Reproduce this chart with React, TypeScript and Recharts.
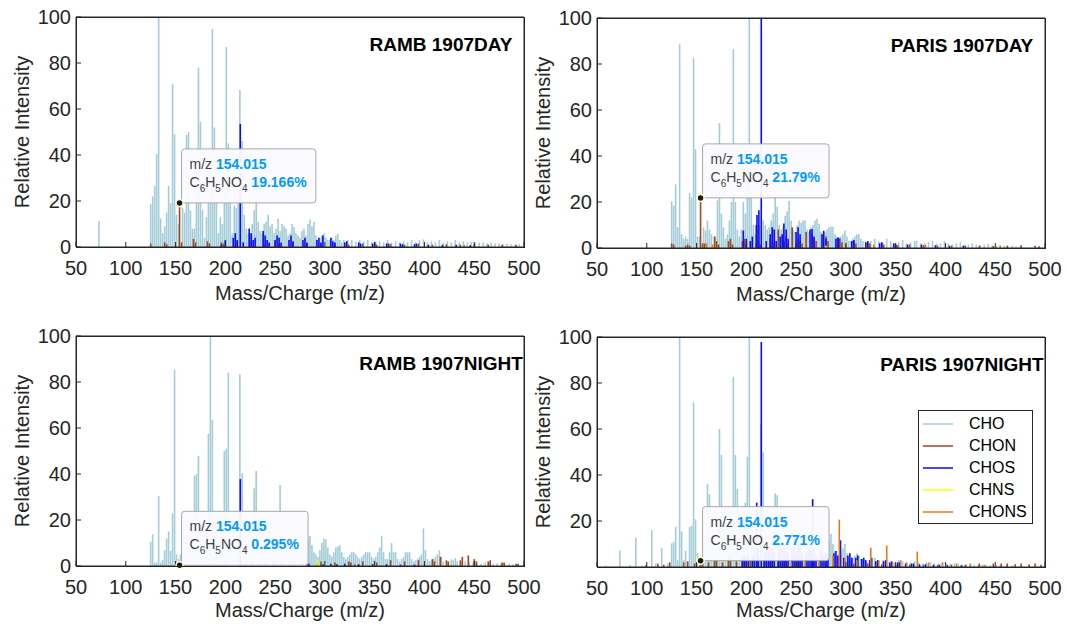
import React from 'react';
import { ComposedChart, Bar, Line, XAxis, YAxis, ReferenceDot, Legend } from 'recharts';

type Peak = [number, number];

const CLASSES = ['CHO', 'CHON', 'CHOS', 'CHNS', 'CHONS'];
const CLASS_COLORS: Record<string, string> = {
  CHO: '#a3ccd9',
  CHON: '#a4461c',
  CHOS: '#0a0aff',
  CHNS: '#ffff00',
  CHONS: '#e07d1a',
};

const X_TICKS = [50, 100, 150, 200, 250, 300, 350, 400, 450, 500];
const Y_TICKS = [0, 20, 40, 60, 80, 100];
const Y_TICKS_NO_ZERO = [20, 40, 60, 80, 100];

const TIP_MZ = 154.015;

// ---- RAMB 1907DAY ----
const RAMB_DAY_CHO: Peak[] = [
  [73, 11.3], [125, 18.6], [127, 22], [129, 26.5], [131, 40.4], [133, 100], [135, 12.4], [137, 6], [139, 9],
  [141, 15], [143, 26.5], [145, 19], [147, 70.8], [149, 49], [151, 14], [153, 10], [157, 17], [159, 15],
  [161, 48.7], [163, 50], [165, 16], [167, 8], [169, 8], [171, 29], [173, 78], [175, 54.5], [177, 16],
  [179, 4], [181, 13], [183, 20], [185, 37.8], [187, 94.8], [189, 52], [191, 20], [193, 6], [195, 13],
  [197, 10], [199, 32], [201, 87], [203, 45], [205, 20], [207, 6], [209, 18], [211, 17], [213, 20],
  [214.6, 68.3], [217, 46], [219, 14], [221, 8], [223, 6], [225, 6], [227, 10], [229, 16], [231, 20],
  [233, 11], [235, 7], [237, 6], [239, 10], [241, 11], [243, 14], [245, 9], [247, 10], [249, 6], [251, 8],
  [253, 12.4], [255, 7], [257, 10], [259, 9], [261, 8], [263, 5], [265, 6], [267, 10], [269, 8.7],
  [271, 6], [273, 5], [275, 4], [277, 7], [279, 8], [281, 5], [283, 10], [285, 12], [287, 9], [289, 11],
  [291, 5], [293, 3], [295, 4], [297, 5], [299, 6], [301, 4], [303, 3], [305, 3], [307, 4], [309, 3],
  [311, 5], [313, 5.8], [315, 3], [317, 2], [319, 3], [323, 3], [327, 3], [331, 2.5], [335, 3], [339, 2.5],
  [343, 3], [347, 2], [351, 2.5], [355, 2.5], [359, 2], [363, 3], [367, 2], [371, 2.5], [375, 2],
  [379, 2.5], [383, 2], [387, 3], [391, 2], [395, 3], [399, 3.3], [403, 2], [407, 2.5], [411, 2], [415, 3],
  [419, 2], [423, 2.5], [427, 2], [431, 3], [435, 2], [439, 2.5], [443, 2], [447, 2.2], [451, 2], [455, 1.8],
  [459, 2], [463, 1.5], [467, 1.8], [471, 1.5], [475, 1.6], [479, 1.2], [483, 1.4], [487, 1.2], [491, 1],
  [495, 1.2],
];
const RAMB_DAY_CHON: Peak[] = [
  [125.05, 1.5], [139.05, 2], [141.05, 1.2], [154.015, 19.166], [156.05, 2], [168.03, 3.5], [170.05, 2],
  [182.05, 2.5], [184.05, 1.5], [196.05, 2], [198.05, 1.5], [212.05, 2.5], [226.05, 2], [240.05, 1.5],
  [254.05, 1.5], [268.05, 2], [282.05, 1.5], [296.05, 1], [310.05, 1.5], [324.05, 1], [338.05, 1.5],
  [352.05, 1], [366.05, 1.2], [380.05, 1], [394.05, 1.5], [408.05, 1], [422.05, 1.2], [436.05, 1],
  [450.05, 1.2], [464.05, 1], [478.05, 1], [492.05, 1],
];
const RAMB_DAY_CHOS: Peak[] = [
  [195.98, 1], [199.98, 3], [207.98, 4], [209.98, 6], [211.98, 3], [215.05, 53.5], [217.98, 2], [223.98, 8],
  [225.98, 6], [227.98, 3], [229.98, 4], [237.98, 7], [239.98, 5], [241.98, 3], [243.98, 2], [249.98, 3],
  [251.98, 5], [253.98, 4], [255.98, 2], [263.98, 3], [265.98, 5], [267.98, 2.5], [277.98, 3], [279.98, 4],
  [281.98, 2], [291.98, 3], [293.98, 4], [295.98, 2], [297.98, 5], [305.98, 4], [307.98, 2.5], [309.98, 2],
  [319.98, 2], [321.98, 2.5], [333.98, 2], [335.98, 1.5], [347.98, 1.5], [349.98, 2], [361.98, 1.5],
  [363.98, 1.5], [375.98, 1.5], [377.98, 1.2], [389.98, 1.2], [391.98, 1.5], [403.98, 1], [417.98, 1],
  [431.98, 1], [445.98, 0.8],
];
const RAMB_DAY_CHNS: Peak[] = [[303.01, 0.8]];
const RAMB_DAY_CHONS: Peak[] = [[365.02, 1], [440.02, 1]];

// ---- PARIS 1907DAY ----
const PARIS_DAY_CHO: Peak[] = [
  [125, 20.3], [127, 18.5], [129, 27.7], [131, 9], [133, 88.6], [135, 6], [137, 4], [139, 5], [141, 4],
  [143, 24], [145, 22], [147, 82.5], [149, 43], [151, 5], [153, 5], [157, 9], [159, 7.6], [161, 12],
  [163, 8], [165, 6], [169, 5], [171, 20.7], [173, 54.3], [175, 15], [177, 9], [179, 4], [181, 6], [183, 12],
  [185, 20], [187, 86.4], [189, 20], [191, 8], [193, 5], [195, 8], [197, 20], [199, 15], [201, 30],
  [203, 100], [205, 23], [207, 10], [209, 6], [211.3, 8], [213, 10], [217, 12], [219, 10], [221, 8],
  [223, 9], [225, 12], [227, 15], [229, 24], [231, 18], [233, 10], [235, 8], [237, 9], [239, 14], [241, 16],
  [243, 20.4], [245, 12], [247, 8], [249, 7], [251, 10], [253, 12], [255, 11], [257, 12], [259, 12],
  [261, 8], [263, 7], [265, 9], [267, 10], [269, 12], [271, 12.6], [273, 10.5], [275, 7], [277, 6], [279, 7],
  [281, 8], [283, 9], [285, 9.3], [287, 9.2], [289, 6], [291, 5], [293, 4], [295, 5], [297, 6], [299, 7.6],
  [301, 5], [303, 3], [305, 3], [307, 4], [309, 5], [311, 6], [313, 6], [315, 4], [317, 3], [321, 2.5],
  [325, 3], [329, 4], [333, 3], [337, 2.5], [341, 4], [345, 3], [349, 2], [353, 2.5], [357, 3.5], [361, 2],
  [365, 2.5], [369, 3], [371, 3.2], [375, 2], [379, 2], [383, 2.5], [387, 3], [391, 2], [395, 2], [399, 3],
  [403, 2], [407, 1.5], [411, 2], [415, 2.5], [419, 1.5], [423, 1.5], [427, 2], [431, 1.5], [435, 1.2],
  [439, 1.5], [443, 1.8], [447, 1.2], [451, 1], [455, 1.2], [459, 1], [463, 0.8], [467, 1], [471, 0.8],
  [475, 0.8],
];
const PARIS_DAY_CHON: Peak[] = [
  [125.05, 2], [127.05, 1.5], [139.05, 1], [141.05, 1.5], [143.05, 1], [154.015, 21.79], [156.05, 2],
  [158.05, 2], [168.05, 5], [170.05, 3], [172.05, 1.5], [182.05, 3], [184.05, 4], [186.05, 1.5], [196.05, 3],
  [198.05, 4], [200.05, 2], [210.05, 2], [212.05, 3], [214.05, 1.5], [224.05, 4], [226.05, 3], [228.05, 2],
  [232.05, 8], [238.05, 3], [240.05, 5], [242.05, 2], [246.05, 9], [252.05, 4], [254.05, 3], [256.05, 2],
  [260.05, 7], [266.05, 6], [268.05, 4], [270.05, 3], [280.05, 5], [282.05, 3], [294.05, 4], [296.05, 2.5],
  [308.05, 3], [310.05, 2], [322.05, 2.5], [324.05, 2], [336.05, 2], [338.05, 1.5], [350.05, 1.5],
  [352.05, 1.2], [364.05, 1.5], [378.05, 1.2], [392.05, 1], [406.05, 1], [420.05, 1], [434.05, 1],
  [448.05, 0.8], [462.05, 1], [476.05, 1.2], [490.05, 1], [494.05, 0.8],
];
const PARIS_DAY_CHOS: Peak[] = [
  [196.98, 7.6], [199.98, 4], [203.98, 3], [205.98, 5], [209.98, 10], [210.7, 14.3], [212.6, 16.4],
  [215.0, 99.6], [219.98, 3], [223.98, 6], [225.98, 9], [227.98, 8], [229.98, 3], [233.98, 5], [235.98, 6],
  [237.7, 10.7], [239.98, 8], [241.98, 4], [249.98, 7], [251.98, 9], [253.98, 6], [263.98, 8], [265.98, 8.3],
  [267.98, 5], [275.98, 6], [277.7, 7.5], [279.98, 4], [289.98, 4], [291.98, 4.5], [292.7, 4.5], [305.98, 3],
  [307.98, 3.5], [319.98, 2.5], [321.98, 3], [333.98, 2], [335.98, 2.5], [347.98, 2], [349.98, 1.5],
  [361.98, 1.5], [375.98, 1.5], [389.98, 1.2], [403.98, 1], [417.98, 1],
];
const PARIS_DAY_CHNS: Peak[] = [[280.02, 1]];
const PARIS_DAY_CHONS: Peak[] = [
  [160.02, 2], [166.02, 1.5], [300.02, 2], [328.02, 1.5], [380.02, 1.5], [455.02, 1],
];

// ---- RAMB 1907NIGHT ----
const RAMB_NIGHT_CHO: Peak[] = [
  [125, 10.5], [127, 13.8], [129, 1.5], [131, 1.5], [133, 30.4], [135, 1.5], [137, 2.5], [139, 6.8],
  [141, 12], [143, 15], [145, 6.5], [147, 23], [149, 85.4], [151, 5], [153, 3], [155, 5], [157, 6], [159, 4],
  [161, 5], [163, 7], [165, 12], [167, 5], [169, 39.3], [171, 40], [173, 47.9], [175, 15], [177, 5],
  [179, 8], [181, 10], [183, 57.5], [185, 100], [187, 63.6], [189, 5.5], [191, 6], [193, 6], [195, 8],
  [197, 10], [199, 50], [201, 51], [203, 84], [205, 10], [207, 8], [209, 5], [211, 10], [213, 9],
  [214.6, 83.4], [217, 40.3], [219, 8], [221, 6], [223, 5], [225, 10], [227, 14], [229, 33.8], [231, 41.3],
  [233, 10], [235, 6], [237, 5], [239, 8], [241, 12], [243, 15], [245, 8], [247, 7], [249, 5], [251, 8],
  [253, 12], [255, 35.2], [257, 10], [259, 6], [261, 5], [263, 6], [265, 7], [267, 10], [269, 12], [271, 9],
  [273, 7], [275, 6], [277, 5], [279, 8], [281, 8], [283, 12], [285, 13], [287, 9], [289, 6], [291, 5],
  [293, 4], [295, 7], [297, 10], [299, 12], [301, 11.6], [303, 8], [305, 5], [307, 4], [309, 6], [311, 8],
  [313, 8.5], [315, 9], [317, 6], [319, 4], [321, 3], [323, 4], [325, 5], [327, 6], [329, 6], [331, 5],
  [333, 4], [335, 3], [337, 4], [339, 5], [341, 6], [343, 6], [345, 6], [347, 4], [349, 3], [351, 4],
  [353, 6], [355, 8], [357, 13], [359, 6], [361, 3], [363, 3], [365, 6], [367, 10], [369, 6], [371, 6],
  [373, 3], [375, 2], [377, 3], [379, 4], [381, 6], [383, 6], [385, 6], [387, 3], [389, 2], [391, 2.5],
  [393, 3], [395, 4], [397, 5], [399, 16.3], [401, 7], [403, 3], [405, 2], [407, 2.5], [409, 3], [411, 4],
  [413, 5], [415, 6.8], [417, 4], [419, 2], [423, 2], [427, 3], [429, 2.5], [431, 3.5], [433, 2], [437, 1.5],
  [441, 2], [445, 2], [449, 1.5], [453, 1.5], [457, 1], [461, 1.5], [465, 1], [469, 1], [473, 1.2],
  [477, 1], [481, 0.8], [485, 1], [489, 0.8], [493, 0.6],
];
const RAMB_NIGHT_CHON: Peak[] = [
  [154.015, 0.295], [168.05, 0.5], [182.05, 0.5], [196.05, 0.6], [226.05, 1], [240.05, 1], [254.05, 0.8],
  [268.05, 1.5], [282.05, 1.5], [296.05, 2], [310.05, 1.5], [324.05, 2], [326.05, 1.5], [338.05, 2],
  [352.05, 1.5], [366.05, 2.5], [380.05, 2], [394.05, 2.5], [408.05, 3], [410.05, 2], [416.05, 4],
  [422.05, 2.5], [424.05, 2], [436.05, 2.5], [438.05, 4], [444.05, 4.6], [450.05, 3], [452.05, 2],
  [464.05, 2], [466.05, 2.5], [478.05, 1.5], [480.05, 1.5], [492.05, 1], [494.05, 1],
];
const RAMB_NIGHT_CHOS: Peak[] = [
  [215.05, 37.8], [219.98, 1], [227.98, 1], [233.98, 1], [241.98, 1], [247.98, 1], [255.98, 1], [263.98, 1],
  [269.98, 0.8], [277.98, 1], [283.98, 1], [291.98, 1.2], [297.98, 0.8], [305.98, 1], [311.98, 0.8],
  [319.98, 1], [333.98, 0.8], [347.98, 0.8], [361.98, 0.8], [375.98, 0.6], [389.98, 0.6],
];
const RAMB_NIGHT_CHNS: Peak[] = [[292.02, 2.5], [294.02, 1]];
const RAMB_NIGHT_CHONS: Peak[] = [[330.02, 1], [400.02, 1]];

// ---- PARIS 1907NIGHT ----
const PARIS_NIGHT_CHO: Peak[] = [
  [59, 0.5], [73, 7.2], [83, 0.8], [89, 12.7], [95, 0.8], [105, 16], [109, 1.5], [115, 8.4], [121, 1.5],
  [125, 10.3], [127, 10.8], [129, 17.5], [131, 3], [133, 100], [135, 15.5], [137, 3], [139, 7], [141, 2],
  [143, 17.4], [145, 18], [147, 71.6], [149, 20.7], [151, 6], [153, 2], [155, 4], [157, 9], [159, 12],
  [161, 36], [163, 31.6], [165, 12], [167, 8], [169, 10], [171, 20], [173, 60], [175, 48.7], [177, 14],
  [179, 8], [181, 12], [183, 20], [185, 25], [187, 82.5], [189, 48.7], [191, 34], [193, 10], [195, 8],
  [197, 12], [199, 28], [201, 48], [203, 100], [205, 18], [207, 10], [209, 8], [211.3, 6], [213, 8],
  [214.6, 62], [217, 49.8], [219, 10], [221, 8], [223, 6], [225, 8], [227, 12], [229, 32], [231, 31.2],
  [233, 10], [235, 6], [237, 5], [239, 7], [241, 9], [243, 12], [245, 8], [247, 6], [249, 5], [251, 7],
  [253, 9], [255, 10], [257, 8], [259, 6], [261, 5], [263, 6], [265, 7], [267, 8], [269, 10], [271, 8],
  [273, 6], [275, 6], [277, 5], [279, 7], [281, 9], [283, 12], [285, 14.5], [287, 10], [289, 7], [291, 5],
  [293, 4], [295, 6], [297, 8], [299, 10], [301, 6], [303, 4], [305, 3], [307, 4], [309, 5], [311, 6],
  [313, 5], [315, 3.5], [317, 3], [321, 2], [325, 3], [329, 4], [333, 2.5], [337, 3], [341, 3], [345, 2],
  [349, 2], [353, 3], [357, 2.5], [361, 2], [365, 2], [369, 2.5], [373, 2], [377, 1.5], [381, 2], [385, 2],
  [389, 1.5], [393, 1.5], [397, 2], [401, 1.5], [405, 1.2], [409, 1.5], [413, 1.5], [417, 1], [421, 1.2],
  [425, 1.2], [429, 1], [433, 1], [437, 1], [441, 1], [445, 0.8], [451, 0.8], [455, 0.8], [461, 0.6],
  [467, 0.6],
];
const PARIS_NIGHT_CHON: Peak[] = [
  [99.05, 0.8], [111.05, 1.5], [117.05, 1], [123.05, 2], [137.05, 2], [141.05, 2.5], [148.05, 1.5],
  [154.015, 2.771], [156.05, 3], [162.05, 2], [168.05, 4], [170.05, 3], [176.05, 2], [182.05, 5],
  [184.05, 4], [190.05, 2.5], [196.05, 5], [198.05, 4], [204.05, 3], [210.05, 3], [212.05, 4], [218.05, 2.5],
  [224.05, 4], [226.05, 3], [232.05, 2], [238.05, 3], [240.05, 3.5], [252.05, 3], [254.05, 2], [266.05, 2.5],
  [268.05, 2], [280.05, 2.5], [294.05, 2], [308.05, 1.5], [322.05, 1.5], [336.05, 1.2], [350.05, 1],
  [364.05, 1], [378.05, 1], [392.05, 0.8], [406.05, 1], [420.05, 1], [434.05, 1.5], [448.05, 1.5],
  [456.05, 1.5], [462.05, 1.5], [470.05, 1.2], [476.05, 1.5], [484.05, 1.2], [490.05, 1.5], [496.05, 1],
];
const PARIS_NIGHT_CHOS: Peak[] = [
  [195.98, 3], [197.98, 5], [199.98, 4], [201.98, 6], [205.98, 5], [207.98, 7], [210.4, 28], [211.98, 8],
  [215.05, 97.8], [217.98, 6], [219.98, 8], [221.98, 7], [223.98, 9], [225.98, 8], [227.98, 6], [231.98, 7],
  [233.98, 9], [235.98, 8], [237.98, 10], [239.98, 7], [241.98, 6], [245.98, 8], [247.98, 9], [249.98, 7],
  [251.98, 10], [253.98, 8], [255.98, 6], [259.98, 7], [261.98, 8], [263.98, 9], [265.98, 7], [266.6, 29.5],
  [267.98, 6], [269.98, 5], [273.98, 7], [275.98, 8], [277.98, 6], [279.98, 6], [281.98, 5], [287.98, 6],
  [289.98, 7], [291.98, 5], [294.6, 11.6], [297.98, 4], [301.98, 5], [303.98, 6], [305.98, 4], [309.98, 4],
  [311.98, 5], [315.98, 3.5], [317.98, 4], [319.98, 3], [323.98, 3], [325.98, 4], [329.98, 2.5],
  [331.98, 3], [337.98, 2.5], [339.98, 3], [343.98, 2], [345.98, 2.5], [351.98, 2], [353.98, 2],
  [359.98, 1.5], [365.98, 1.5], [367.98, 1.5], [373.98, 1.2], [379.98, 1.2], [387.98, 1], [393.98, 1],
  [401.98, 0.8], [415.98, 0.8],
];
const PARIS_NIGHT_CHNS: Peak[] = [[286.02, 1]];
const PARIS_NIGHT_CHONS: Peak[] = [
  [245.02, 2], [259.02, 3], [273.02, 4], [287.02, 5], [293.4, 20.6], [299.02, 4], [311.02, 3], [325.02, 8.4],
  [333.02, 3], [341.02, 9.3], [347.02, 2], [355.02, 3], [361.02, 2], [371.7, 6.7], [383.02, 2], [397.02, 2],
  [411.02, 1.5], [425.02, 1.5], [439.02, 1],
];

const FONT = '"Liberation Sans", Arial, Helvetica, sans-serif';
const AXIS_COLOR = '#262626';
const CHART_W = 553;
const CHART_H = 307;
const PLOT = { left: 76, top: 17, width: 448, height: 230 };

// one row per peak; each row carries only its own class so the stack never adds up
const buildRows = (series: Record<string, Peak[]>) => {
  const rows: any[] = [];
  CLASSES.forEach((cls) => {
    (series[cls] || []).forEach(([mz, v]) => rows.push({ mz, [cls]: v }));
  });
  return rows.sort((a, b) => a.mz - b.mz);
};

// bars are drawn as thin sticks centred on their m/z
const Stick = (props: any) => {
  const { x, y, width, height, fill } = props;
  if (!height || height <= 0 || !isFinite(x) || !isFinite(y)) return null;
  const cx = x + (width || 0) / 2;
  return <line x1={cx} x2={cx} y1={y} y2={y + height} stroke={fill} strokeWidth={1.6} />;
};

const valueWidth = (s: string) =>
  [...s].reduce((w, ch) => w + (ch === '.' ? 3.9 : ch === '%' ? 12.4 : 7.8), 0);

const DataTip = ({ cx, cy, label }: { cx: number; cy: number; label: string }) => {
  const pct = label + '%';
  const w = 79 + valueWidth(pct);
  const top = cy - 54;
  return (
    <g style={{ fontFamily: FONT }}>
      <rect x={cx + 2} y={top} width={w} height={54} rx={3} fill="#fbfbff" fillOpacity={0.95} stroke="#a8a8a8" />
      <text x={cx + 10} y={top + 20} fontSize={14} fill="#404040">
        m/z{' '}
        <tspan fill="#0099ff" fontWeight="bold">{TIP_MZ.toFixed(3)}</tspan>
      </text>
      <text x={cx + 10} y={top + 38} fontSize={14} fill="#404040">
        C<tspan dy={5} fontSize={10}>6</tspan>
        <tspan dy={-5}>H</tspan>
        <tspan dy={5} fontSize={10}>5</tspan>
        <tspan dy={-5}>NO</tspan>
        <tspan dy={5} fontSize={10}>4</tspan>
        <tspan dy={-5} fill="#0099ff" fontWeight="bold">{' ' + pct}</tspan>
      </text>
      <circle cx={cx} cy={cy} r={3.5} fill="#1a1a1a" stroke="#ffffc8" strokeWidth={1.5} />
    </g>
  );
};

const LegendBox = () => (
  <div
    style={{
      width: 115,
      height: 114,
      boxSizing: 'border-box',
      border: `1px solid ${AXIS_COLOR}`,
      background: '#fff',
      padding: '2px 0 0 4px',
      fontFamily: FONT,
    }}
  >
    {CLASSES.map((c) => (
      <div key={c} style={{ display: 'flex', alignItems: 'center', height: 22 }}>
        <svg width={30} height={4} style={{ display: 'block' }}>
          <line x1={0} x2={30} y1={2} y2={2} stroke={CLASS_COLORS[c]} strokeWidth={1.5} />
        </svg>
        <span style={{ marginLeft: 16, fontSize: 16, color: '#000' }}>{c}</span>
      </div>
    ))}
  </div>
);

interface PanelProps {
  left: number;
  top: number;
  title: string;
  series: Record<string, Peak[]>;
  tipValue: number;
  tipLabel: string;
  yTicks: number[];
  labelOffset: number;
  legend?: boolean;
}

const Panel: React.FC<PanelProps> = ({ left, top, title, series, tipValue, tipLabel, yTicks, labelOffset, legend }) => {
  const rows = buildRows(series);
  const tick = { fill: AXIS_COLOR, fontSize: 20, fontFamily: FONT };
  const line = { stroke: AXIS_COLOR, strokeWidth: 1 };
  return (
    <div style={{ position: 'absolute', left, top, width: CHART_W, height: CHART_H }}>
      <ComposedChart width={CHART_W} height={CHART_H} data={rows} margin={{ top: 16, right: 28, bottom: 0, left: 0 }}>
        <XAxis
          dataKey="mz"
          type="number"
          domain={[50, 500]}
          ticks={X_TICKS}
          interval={0}
          allowDataOverflow
          height={60}
          tickSize={-5}
          tickMargin={19}
          axisLine={line}
          tickLine={line}
          tick={tick}
          label={{ value: 'Mass/Charge (m/z)', position: 'insideBottom', offset: labelOffset, fill: AXIS_COLOR, fontSize: 20, fontFamily: FONT }}
        />
        <XAxis
          xAxisId="top"
          orientation="top"
          dataKey="mz"
          type="number"
          domain={[50, 500]}
          ticks={X_TICKS}
          interval={0}
          allowDataOverflow
          height={1}
          tickSize={-5}
          tick={false}
          axisLine={line}
          tickLine={line}
        />
        <YAxis
          type="number"
          domain={[0, 100]}
          ticks={yTicks}
          interval={0}
          allowDataOverflow
          width={76}
          tickSize={-5}
          tickMargin={10}
          axisLine={line}
          tickLine={line}
          tick={tick}
          label={{ value: 'Relative Intensity', angle: -90, position: 'insideLeft', offset: 22, fill: AXIS_COLOR, fontSize: 20, fontFamily: FONT, style: { textAnchor: 'middle' } }}
        />
        <YAxis
          yAxisId="right"
          orientation="right"
          type="number"
          domain={[0, 100]}
          ticks={Y_TICKS}
          interval={0}
          allowDataOverflow
          width={1}
          tickSize={-5}
          tick={false}
          axisLine={line}
          tickLine={line}
        />
        {/* empty series that ties the top and right frame axes into the chart */}
        <Line
          xAxisId="top"
          yAxisId="right"
          dataKey="frame"
          stroke="none"
          dot={false}
          activeDot={false}
          legendType="none"
          isAnimationActive={false}
        />
        {CLASSES.map((c) => (
          <Bar key={c} dataKey={c} stackId="s" fill={CLASS_COLORS[c]} shape={<Stick />} isAnimationActive={false} />
        ))}
        <ReferenceDot
          x={TIP_MZ}
          y={tipValue}
          r={4}
          ifOverflow="visible"
          shape={(p: any) => <DataTip cx={p.cx} cy={p.cy} label={tipLabel} />}
        />
        {legend && (
          <Legend
            layout="vertical"
            align="center"
            verticalAlign="middle"
            content={() => <LegendBox />}
            wrapperStyle={{ left: 397, top: 90, width: 115 }}
          />
        )}
      </ComposedChart>
      {/* axes box */}
      <div
        style={{
          position: 'absolute',
          left: PLOT.left,
          top: PLOT.top,
          width: PLOT.width + 1,
          height: PLOT.height + 1,
          boxSizing: 'border-box',
          border: `1px solid ${AXIS_COLOR}`,
          pointerEvents: 'none',
        }}
      />
      <div
        style={{
          position: 'absolute',
          left: PLOT.left + 365 - 100,
          width: 200,
          top: PLOT.top + 28 - 12,
          textAlign: 'center',
          fontFamily: FONT,
          fontWeight: 'bold',
          fontSize: 19,
          lineHeight: '24px',
          color: '#000',
          whiteSpace: 'nowrap',
        }}
      >
        {title}
      </div>
    </div>
  );
};

const App: React.FC = () => (
  <div style={{ position: 'fixed', left: 0, top: 0, width: 1066, height: 625, overflow: 'hidden', background: '#fff' }}>
    <Panel
      left={0}
      top={0}
      title="RAMB 1907DAY"
      series={{ CHO: RAMB_DAY_CHO, CHON: RAMB_DAY_CHON, CHOS: RAMB_DAY_CHOS, CHNS: RAMB_DAY_CHNS, CHONS: RAMB_DAY_CHONS }}
      tipValue={19.166}
      tipLabel="19.166"
      yTicks={Y_TICKS}
      labelOffset={7}
    />
    <Panel
      left={521}
      top={1}
      title="PARIS 1907DAY"
      series={{ CHO: PARIS_DAY_CHO, CHON: PARIS_DAY_CHON, CHOS: PARIS_DAY_CHOS, CHNS: PARIS_DAY_CHNS, CHONS: PARIS_DAY_CHONS }}
      tipValue={21.79}
      tipLabel="21.79"
      yTicks={Y_TICKS}
      labelOffset={7}
    />
    <Panel
      left={0}
      top={319}
      title="RAMB 1907NIGHT"
      series={{ CHO: RAMB_NIGHT_CHO, CHON: RAMB_NIGHT_CHON, CHOS: RAMB_NIGHT_CHOS, CHNS: RAMB_NIGHT_CHNS, CHONS: RAMB_NIGHT_CHONS }}
      tipValue={0.295}
      tipLabel="0.295"
      yTicks={Y_TICKS}
      labelOffset={9}
    />
    <Panel
      left={521}
      top={320}
      title="PARIS 1907NIGHT"
      series={{ CHO: PARIS_NIGHT_CHO, CHON: PARIS_NIGHT_CHON, CHOS: PARIS_NIGHT_CHOS, CHNS: PARIS_NIGHT_CHNS, CHONS: PARIS_NIGHT_CHONS }}
      tipValue={2.771}
      tipLabel="2.771"
      yTicks={Y_TICKS_NO_ZERO}
      labelOffset={10}
      legend
    />
  </div>
);

export default App;
